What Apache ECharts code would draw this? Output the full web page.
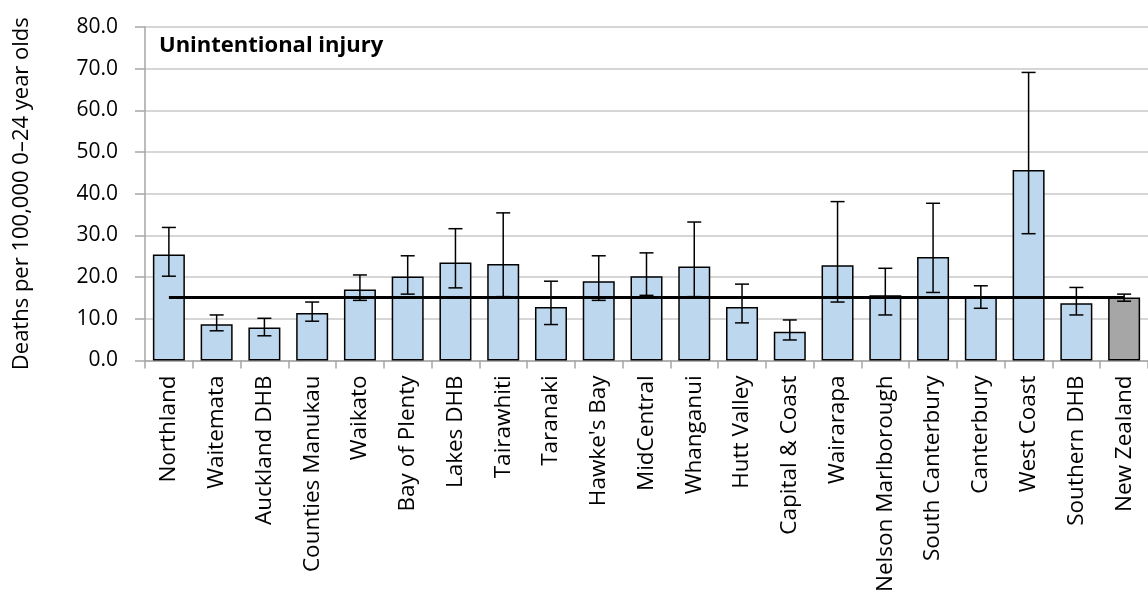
<!DOCTYPE html>
<html lang="en">

<head>
    <meta charset="UTF-8">
    <title>Unintentional injury</title>
    <script src="https://cdn.jsdelivr.net/npm/echarts@6/dist/echarts.min.js"></script>
</head>

<style>
    html, body {
        margin: 0;
        padding: 0;
        background: #fff;
    }

    #chart {
        width: 1148px;
        height: 595px;
    }
</style>

<body>
    <div id="chart"></div>
</body>

</html>

<script>
    let categories = ['Northland', 'Waitemata', 'Auckland DHB', 'Counties Manukau', 'Waikato', 'Bay of Plenty',
        'Lakes DHB', 'Tairawhiti', 'Taranaki', "Hawke's Bay", 'MidCentral', 'Whanganui', 'Hutt Valley',
        'Capital & Coast', 'Wairarapa', 'Nelson Marlborough', 'South Canterbury', 'Canterbury', 'West Coast',
        'Southern DHB', 'New Zealand'];
    let rates = [25.4, 8.7, 7.9, 11.4, 17.0, 20.1, 23.5, 23.1, 12.8, 19.0, 20.2, 22.5, 12.8, 6.9, 22.8, 15.6, 24.8, 15.1, 45.7, 13.7, 15.1];
    let lower = [20.2, 7.1, 5.9, 9.4, 14.4, 15.9, 17.4, 15.3, 8.6, 14.4, 15.6, 15.3, 9.0, 4.9, 14.0, 10.9, 16.3, 12.5, 30.4, 10.9, 14.2];
    let upper = [31.9, 10.9, 10.1, 14.0, 20.5, 25.1, 31.6, 35.4, 19.0, 25.1, 25.8, 33.2, 18.3, 9.7, 38.1, 22.1, 37.7, 17.9, 69.1, 17.5, 15.9];
    let nzRate = 15.1;
    let yTicks = [0, 10, 20, 30, 40, 50, 60, 70, 80];

    let font = "'Open Sans', 'Noto Sans', sans-serif";
    let myChart = echarts.init(document.getElementById('chart'));

    let barData = rates.map(function (v, i) {
        let isNZ = categories[i] === 'New Zealand';
        return {
            value: v,
            itemStyle: { color: isNZ ? '#A6A6A6' : '#BDD7EE' }
        };
    });

    let errData = categories.map(function (c, i) {
        return [i, lower[i], upper[i]];
    });

    option = {
        animation: false,
        title: {
            text: 'Unintentional injury',
            left: 154,
            top: 30,
            textStyle: {
                fontFamily: font,
                fontSize: 22,
                fontWeight: 'bold',
                color: '#000'
            }
        },
        grid: {
            left: 145,
            top: 27,
            width: 1012,
            height: 335
        },
        xAxis: {
            type: 'category',
            data: categories,
            axisLine: { lineStyle: { color: '#A6A6A6', width: 1.5 } },
            axisTick: { show: true, length: 8, lineStyle: { color: '#A6A6A6', width: 1.5 } },
            axisLabel: {
                rotate: 90,
                interval: 0,
                margin: 15,
                fontFamily: font,
                fontSize: 22.5,
                color: '#000'
            }
        },
        yAxis: {
            type: 'value',
            min: yTicks[0],
            max: yTicks[yTicks.length - 1],
            interval: 10,
            name: 'Deaths per 100,000 0\u201324 year olds',
            nameLocation: 'middle',
            nameGap: 112,
            nameTextStyle: {
                fontFamily: font,
                fontSize: 22,
                color: '#000'
            },
            axisLine: { show: true, lineStyle: { color: '#A6A6A6', width: 1.5 } },
            axisTick: { show: true, length: 10, lineStyle: { color: '#A6A6A6', width: 1.5 } },
            splitLine: { lineStyle: { color: '#C8C8C8', width: 1.5 } },
            axisLabel: {
                margin: 27,
                fontFamily: font,
                fontSize: 21,
                color: '#000',
                formatter: function (v) { return v.toFixed(1); }
            }
        },
        series: [{
            name: 'Rate',
            type: 'bar',
            barWidth: '67%',
            data: barData,
            itemStyle: {
                borderColor: '#000',
                borderWidth: 1.5
            },
            markLine: {
                silent: true,
                symbol: 'none',
                label: { show: false },
                lineStyle: { color: '#000', width: 3, type: 'solid' },
                data: [[
                    { xAxis: categories[0], yAxis: nzRate },
                    { xAxis: categories[categories.length - 1], yAxis: nzRate }
                ]]
            }
        }, {
            name: '95% CI',
            type: 'custom',
            z: 5,
            data: errData,
            renderItem: function (params, api) {
                let x = api.value(0);
                let lo = api.coord([x, api.value(1)]);
                let hi = api.coord([x, api.value(2)]);
                let cap = 7;
                let style = { stroke: '#000', lineWidth: 1.5 };
                return {
                    type: 'group',
                    children: [
                        { type: 'line', shape: { x1: lo[0], y1: lo[1], x2: hi[0], y2: hi[1] }, style: style },
                        { type: 'line', shape: { x1: hi[0] - cap, y1: hi[1], x2: hi[0] + cap, y2: hi[1] }, style: style },
                        { type: 'line', shape: { x1: lo[0] - cap, y1: lo[1], x2: lo[0] + cap, y2: lo[1] }, style: style }
                    ]
                };
            }
        }]
    };

    myChart.setOption(option);
</script>
